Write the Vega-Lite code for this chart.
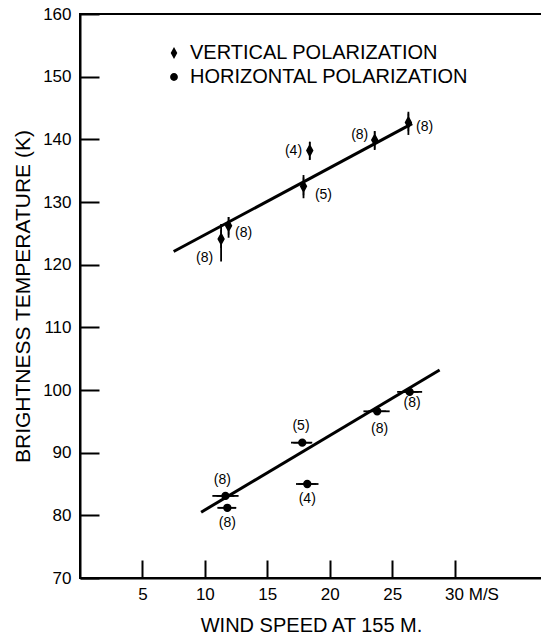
{
  "$schema": "https://vega.github.io/schema/vega-lite/v6.json",
  "width": 462,
  "height": 564,
  "autosize": {"type": "none"},
  "padding": {"left": 80, "top": 14, "right": 0, "bottom": 62},
  "background": "white",
  "config": {
    "view": {"stroke": "black", "strokeWidth": 2},
    "font": "Liberation Sans",
    "axis": {
      "domainColor": "black",
      "domainWidth": 2,
      "tickColor": "black",
      "tickWidth": 2,
      "labelColor": "black",
      "titleColor": "black",
      "titleFontWeight": "normal",
      "grid": false,
      "labelFont": "Liberation Sans",
      "titleFont": "Liberation Sans"
    }
  },
  "datasets": {
    "points": [
      {"series": "VERTICAL POLARIZATION", "speed": 11.3, "temp": 124.1, "tlo": 120.5, "thi": 126.5},
      {"series": "VERTICAL POLARIZATION", "speed": 11.9, "temp": 126.2, "tlo": 124.3, "thi": 127.6},
      {"series": "VERTICAL POLARIZATION", "speed": 17.9, "temp": 132.5, "tlo": 130.6, "thi": 134.3},
      {"series": "VERTICAL POLARIZATION", "speed": 18.4, "temp": 138.2, "tlo": 136.7, "thi": 139.6},
      {"series": "VERTICAL POLARIZATION", "speed": 23.6, "temp": 139.9, "tlo": 138.3, "thi": 141.3},
      {"series": "VERTICAL POLARIZATION", "speed": 26.3, "temp": 142.7, "tlo": 140.7, "thi": 144.4},
      {"series": "HORIZONTAL POLARIZATION", "speed": 11.65, "temp": 83.1, "slo": 10.6, "shi": 12.7},
      {"series": "HORIZONTAL POLARIZATION", "speed": 11.8, "temp": 81.2, "slo": 11.0, "shi": 12.5},
      {"series": "HORIZONTAL POLARIZATION", "speed": 17.8, "temp": 91.6, "slo": 16.9, "shi": 18.6},
      {"series": "HORIZONTAL POLARIZATION", "speed": 18.2, "temp": 85.0, "slo": 17.3, "shi": 19.1},
      {"series": "HORIZONTAL POLARIZATION", "speed": 23.8, "temp": 96.6, "slo": 22.7, "shi": 24.8},
      {"series": "HORIZONTAL POLARIZATION", "speed": 26.4, "temp": 99.7, "slo": 25.4, "shi": 27.4}
    ],
    "fit": [
      {"series": "VERTICAL POLARIZATION", "speed": 7.5, "temp": 122.1},
      {"series": "VERTICAL POLARIZATION", "speed": 26.6, "temp": 142.5},
      {"series": "HORIZONTAL POLARIZATION", "speed": 9.7, "temp": 80.5},
      {"series": "HORIZONTAL POLARIZATION", "speed": 28.8, "temp": 103.2}
    ],
    "labels": [
      {"speed": 9.98, "temp": 121.0, "text": "(8)"},
      {"speed": 13.1, "temp": 125.0, "text": "(8)"},
      {"speed": 19.5, "temp": 131.1, "text": "(5)"},
      {"speed": 17.1, "temp": 138.2, "text": "(4)"},
      {"speed": 22.4, "temp": 140.7, "text": "(8)"},
      {"speed": 27.6, "temp": 142.0, "text": "(8)"},
      {"speed": 11.4, "temp": 85.7, "text": "(8)"},
      {"speed": 11.8, "temp": 78.7, "text": "(8)"},
      {"speed": 17.7, "temp": 94.2, "text": "(5)"},
      {"speed": 18.2, "temp": 82.6, "text": "(4)"},
      {"speed": 24.0, "temp": 93.7, "text": "(8)"},
      {"speed": 26.6, "temp": 97.9, "text": "(8)"}
    ]
  },
  "layer": [
    {
      "data": {"name": "fit"},
      "mark": {"type": "line", "color": "black", "strokeWidth": 3},
      "encoding": {
        "x": {
          "field": "speed", "type": "quantitative",
          "scale": {"domain": [0, 37], "nice": false, "zero": false},
          "axis": {
            "values": [5, 10, 15, 20, 25, 30],
            "title": "WIND SPEED AT 155 M.",
            "titleFontSize": 20,
            "titlePadding": 13,
            "tickSize": -18,
            "labelFontSize": 17,
            "labelPadding": 26,
            "labelFlush": false,
            "labelOverlap": false,
            "labelExpr": "datum.value == 30 ? '30 M/S' : datum.label",
            "labelAlign": {"condition": {"test": "datum.value == 30", "value": "left"}, "value": "center"},
            "labelOffset": {"condition": {"test": "datum.value == 30", "value": -10}, "value": 0}
          }
        },
        "y": {
          "field": "temp", "type": "quantitative",
          "scale": {"domain": [70, 160], "nice": false, "zero": false},
          "axis": {
            "values": [70, 80, 90, 100, 110, 120, 130, 140, 150, 160],
            "title": "BRIGHTNESS TEMPERATURE (K)",
            "titleFontSize": 21,
            "titlePadding": 9,
            "tickSize": -19,
            "labelFontSize": 17,
            "labelPadding": 28,
            "labelOverlap": false
          }
        },
        "detail": {"field": "series"}
      }
    },
    {
      "data": {"name": "points"},
      "transform": [{"filter": "datum.series == 'VERTICAL POLARIZATION'"}],
      "mark": {"type": "rule", "color": "black", "strokeWidth": 1.8},
      "encoding": {
        "x": {"field": "speed", "type": "quantitative"},
        "y": {"field": "tlo", "type": "quantitative"},
        "y2": {"field": "thi"}
      }
    },
    {
      "data": {"name": "points"},
      "transform": [{"filter": "datum.series == 'HORIZONTAL POLARIZATION'"}],
      "mark": {"type": "rule", "color": "black", "strokeWidth": 1.8},
      "encoding": {
        "x": {"field": "slo", "type": "quantitative"},
        "x2": {"field": "shi"},
        "y": {"field": "temp", "type": "quantitative"}
      }
    },
    {
      "data": {"name": "points"},
      "mark": {"type": "point", "filled": true, "fill": "black", "stroke": "black", "strokeWidth": 1.5, "opacity": 1, "size": 110},
      "encoding": {
        "x": {"field": "speed", "type": "quantitative"},
        "y": {"field": "temp", "type": "quantitative"},
        "shape": {
          "field": "series", "type": "nominal",
          "scale": {
            "domain": ["VERTICAL POLARIZATION", "HORIZONTAL POLARIZATION"],
            "range": [
              "M0,-1.7L0,1.7M0,-1L0.55,0L0,1L-0.55,0Z",
              "M-1.7,0L1.7,0M-0.65,0A0.65,0.65,0,1,0,0.65,0A0.65,0.65,0,1,0,-0.65,0Z"
            ]
          },
          "legend": {
            "orient": "none",
            "legendX": 84,
            "legendY": 29,
            "title": null,
            "labelFontSize": 20,
            "labelFont": "Liberation Sans",
            "labelColor": "black",
            "labelLimit": 400,
            "labelOffset": 6,
            "symbolSize": 144,
            "symbolFillColor": "black",
            "symbolStrokeColor": "black",
            "symbolStrokeWidth": 1.5,
            "symbolOpacity": 1,
            "rowPadding": -6,
            "padding": 0
          }
        }
      }
    },
    {
      "data": {"name": "labels"},
      "mark": {"type": "text", "fontSize": 14, "font": "Liberation Sans", "color": "black"},
      "encoding": {
        "x": {"field": "speed", "type": "quantitative"},
        "y": {"field": "temp", "type": "quantitative"},
        "text": {"field": "text"}
      }
    }
  ]
}
